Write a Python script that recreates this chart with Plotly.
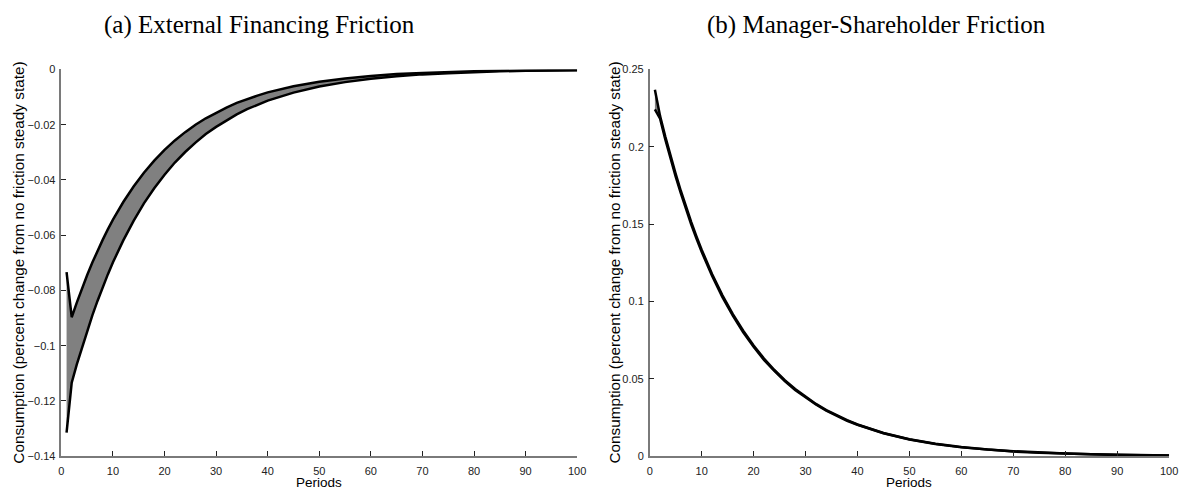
import plotly.graph_objects as go

periods = [1, 2, 3, 4, 5, 6, 7, 8, 9, 10,
           12, 14, 16, 18, 20, 22, 24, 26, 28, 30, 32, 34, 36, 38, 40,
           45, 50, 55, 60, 65, 70, 75, 80, 85, 90, 95, 100]

ext_upper = [-0.0734, -0.0897, -0.0843, -0.0792, -0.0744, -0.0699, -0.0656, -0.0617, -0.0579, -0.0544,
             -0.0480, -0.0424, -0.0374, -0.0330, -0.0291, -0.0257, -0.0227, -0.0200, -0.0177, -0.0156,
             -0.0138, -0.0121, -0.0107, -0.0095, -0.0083,
             -0.0061, -0.0045, -0.0033, -0.0024, -0.0017, -0.0013, -0.0009, -0.0007, -0.0005, -0.0004,
             -0.0003, -0.0002]
ext_lower = [-0.1315, -0.1134, -0.1067, -0.1005, -0.0946, -0.0890, -0.0838, -0.0788, -0.0742, -0.0698,
             -0.0619, -0.0548, -0.0485, -0.0430, -0.0381, -0.0337, -0.0299, -0.0265, -0.0234, -0.0208,
             -0.0184, -0.0163, -0.0144, -0.0128, -0.0113,
             -0.0084, -0.0062, -0.0046, -0.0034, -0.0025, -0.0018, -0.0014, -0.0010, -0.0007, -0.0005,
             -0.0004, -0.0003]

mgr_upper = [0.2368, 0.2198, 0.2066, 0.1942, 0.1825, 0.1714, 0.1610, 0.1513, 0.1421, 0.1335,
             0.1178, 0.1040, 0.0918, 0.0811, 0.0715, 0.0631, 0.0557, 0.0492, 0.0434, 0.0383,
             0.0338, 0.0298, 0.0264, 0.0233, 0.0205,
             0.0150, 0.0110, 0.0081, 0.0059, 0.0043, 0.0032, 0.0023, 0.0017, 0.0012, 0.0009,
             0.0007, 0.0005]
mgr_lower = [0.2242, 0.2182, 0.2048, 0.1924, 0.1807, 0.1698, 0.1594, 0.1497, 0.1407, 0.1321,
             0.1166, 0.1028, 0.0908, 0.0801, 0.0707, 0.0623, 0.0551, 0.0486, 0.0428, 0.0379,
             0.0334, 0.0294, 0.0260, 0.0229, 0.0203,
             0.0148, 0.0108, 0.0079, 0.0057, 0.0042, 0.0030, 0.0022, 0.0016, 0.0011, 0.0008,
             0.0006, 0.0004]

x_ticks = [0, 10, 20, 30, 40, 50, 60, 70, 80, 90, 100]
left_yticks = [-0.14, -0.12, -0.1, -0.08, -0.06, -0.04, -0.02, 0]
right_yticks = [0, 0.05, 0.1, 0.15, 0.2, 0.25]

titles = ["(a) External Financing Friction", "(b) Manager-Shareholder Friction"]
y_title = "Consumption (percent change from no friction steady state)"
x_title = "Periods"

W, H = 1190, 490
FILL = "#808080"

fig = go.Figure()

def add_band(lower, upper, xa, ya):
    fig.add_trace(go.Scatter(x=periods, y=lower, mode="lines", line=dict(width=0, color=FILL),
                             xaxis=xa, yaxis=ya, showlegend=False, hoverinfo="skip"))
    fig.add_trace(go.Scatter(x=periods, y=upper, mode="lines", line=dict(width=0, color=FILL),
                             fill="tonexty", fillcolor=FILL,
                             xaxis=xa, yaxis=ya, showlegend=False, hoverinfo="skip"))
    for ser in (lower, upper):
        fig.add_trace(go.Scatter(x=periods, y=ser, mode="lines", line=dict(width=2.5, color="black"),
                                 xaxis=xa, yaxis=ya, showlegend=False))

add_band(ext_lower, ext_upper, "x", "y")
add_band(mgr_lower, mgr_upper, "x2", "y2")

ydom = [1 - 461.5 / H, 1 - 65 / H]
axis_common = dict(showgrid=False, zeroline=False, showline=True, linecolor="#7a7a7a", linewidth=1.5,
                   ticks="inside", ticklen=5, tickcolor="#222222", tickwidth=1,
                   tickfont=dict(family="Liberation Sans, Arial, sans-serif", size=11, color="#222222"),
                   mirror=False)

fig.update_layout(
    width=W, height=H,
    margin=dict(l=0, r=0, t=0, b=0),
    paper_bgcolor="white", plot_bgcolor="white",
    xaxis=dict(domain=[59 / W, 580 / W], range=[0, 100], tickvals=x_ticks, anchor="y",
               ticklabelstandoff=4, **axis_common),
    yaxis=dict(domain=ydom, range=[-0.14, 0], tickvals=left_yticks, anchor="x",
               ticklabelstandoff=2, **axis_common),
    xaxis2=dict(domain=[653.3 / W, 1178 / W], range=[0, 100], tickvals=x_ticks, anchor="y2",
                ticklabelstandoff=4, **axis_common),
    yaxis2=dict(domain=ydom, range=[0, 0.25], tickvals=right_yticks, anchor="x2",
                ticklabelstandoff=2, **axis_common),
)

serif = dict(family="Liberation Serif, Times New Roman, serif", size=25, color="black")
sans_x = dict(family="Liberation Sans, Arial, sans-serif", size=13.5, color="black")
sans_y = dict(family="Liberation Sans, Arial, sans-serif", size=15.3, color="black")

ann = []
for cx, t in zip([259, 882], titles):
    ann.append(dict(x=cx / W, y=1 - 19 / H, xref="paper", yref="paper", text=t, showarrow=False,
                    xanchor="center", yanchor="middle", font=serif))
for cx in [319, 915]:
    ann.append(dict(x=cx / W, y=1.5 / H, xref="paper", yref="paper", text=x_title, showarrow=False,
                    xanchor="center", yanchor="middle", font=sans_x, borderpad=0))
for cx in [16, 618]:
    ann.append(dict(x=cx / W, y=(ydom[0] + ydom[1]) / 2, xref="paper", yref="paper", text=y_title,
                    showarrow=False, textangle=-90, xanchor="center", yanchor="middle", font=sans_y))
fig.update_layout(annotations=ann)

fig.write_html("out.html")
